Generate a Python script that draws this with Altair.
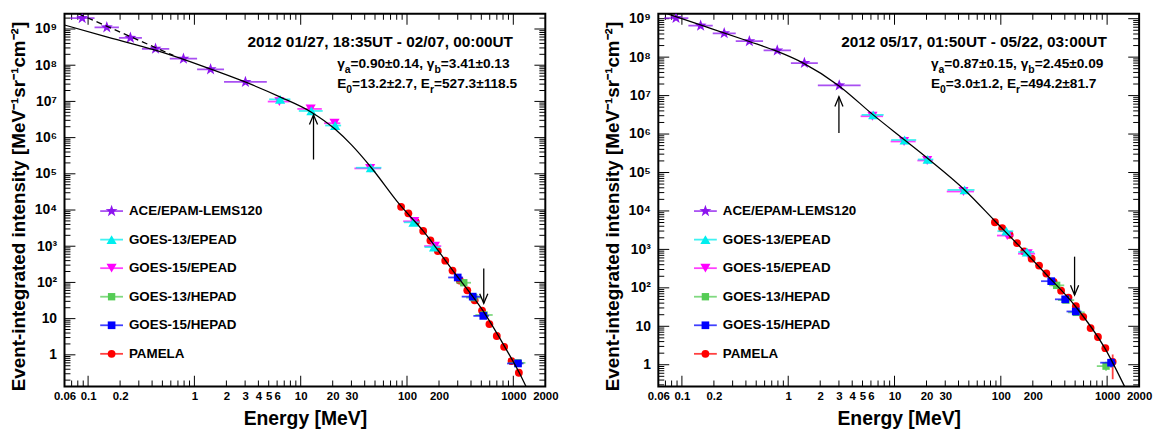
import altair as alt
import pandas as pd

FONT = "Liberation Sans"

# ---------------- data ----------------
instruments = ["ACE/EPAM-LEMS120", "GOES-13/EPEAD", "GOES-15/EPEAD",
               "GOES-13/HEPAD", "GOES-15/HEPAD", "PAMELA"]

ace_E = [0.088, 0.150, 0.250, 0.431, 0.789, 1.42, 3.02]
ace_Elo = [0.068, 0.115, 0.195, 0.321, 0.587, 1.06, 1.90]
ace_Ehi = [0.115, 0.195, 0.321, 0.580, 1.06, 1.90, 4.80]
ace_I_a = [2.0e9, 1.11e9, 5.7e8, 2.84e8, 1.51e8, 7.7e7, 3.45e7]
ace_I_b = [1.04e9, 6.59e8, 4.17e8, 2.6e8, 1.49e8, 7.03e7, 1.84e7]

g13e_E_a = [6.4, 12.6, 21.1, 45.7, 115, 179.5]
g13e_Elo_a = [5.05, 9.6, 17.0, 33.0, 93.5, 146]
g13e_Ehi_a = [8.0, 16.1, 24.0, 57.5, 131, 206]
g13e_I_a = [1.14e7, 5.45e6, 2.16e6, 1.47e5, 4580, 946]
g13e_E_b = [6.3, 12.45, 20.5, 45.7, 112.7, 175.8]
g13e_Elo_b = [4.9, 9.3, 16.6, 31.5, 93, 146]
g13e_Ehi_b = [7.9, 16.0, 23.2, 56.6, 131, 206]
g13e_I_b = [3.15e6, 7.0e5, 2.18e5, 3.52e4, 2974, 855]

g15e_E_a = [6.3, 12.4, 20.8, 45.0, 117, 183]
g15e_Elo_a = [4.9, 9.3, 16.6, 32.0, 92, 145]
g15e_Ehi_a = [7.9, 15.8, 23.6, 57.0, 132, 210]
g15e_I_a = [9.9e6, 6.2e6, 2.5e6, 1.41e5, 4880, 1009]
g15e_E_b = [6.2, 12.3, 20.3, 44.5, 115, 179]
g15e_Elo_b = [4.8, 9.2, 16.4, 31.0, 92, 145]
g15e_Ehi_b = [7.8, 15.8, 23.0, 56.0, 132, 210]
g15e_I_b = [2.9e6, 6.4e5, 2.05e5, 3.2e4, 2290, 773]

g13h_E_a = [342, 425, 530, 1100]
g13h_Elo_a = [290, 360, 440, 900]
g13h_Ehi_a = [400, 500, 640, 1300]
g13h_I_a = [98, 38, 12.6, 0.6]
g13h_E_b = [335, 410, 515, 977]
g13h_Elo_b = [285, 345, 430, 800]
g13h_Ehi_b = [395, 490, 615, 1150]
g13h_I_b = [116, 48, 23, 0.92]

g15h_E_a = [300, 415, 522, 1107]
g15h_Elo_a = [244, 327, 421, 873]
g15h_Ehi_a = [337, 492, 589, 1247]
g15h_I_a = [137, 40.5, 11.9, 0.578]
g15h_E_b = [298, 403, 507, 1089]
g15h_Elo_b = [239, 323, 415, 861]
g15h_Ehi_b = [330, 462, 573, 1213]
g15h_I_b = [149, 50.3, 24.3, 1.13]

pam_E = [88, 103, 121, 142, 166, 195, 229, 268, 314, 369, 433, 508, 596, 699, 820, 962, 1128]
pam_I_a = [12250, 8080, 4670, 2650, 1437, 736, 399, 212, 113, 60.3, 32.1, 16.7,
           7.07, 3.31, 1.66, 0.672, 0.321]
pam_I_b = [5080, 3556, 2390, 1459, 886, 574, 379, 236, 142, 84.4, 55.7, 33.2,
           17.6, 9.0, 5.27, 2.7, 1.19]

yerr_E_a = [962, 1128, 1107]
yerr_lo_a = [0.55, 0.25, 0.47]
yerr_hi_a = [0.80, 0.40, 0.70]
yerr_col_a = ["PAMELA", "PAMELA", "GOES-15/HEPAD"]
yerr_E_b = [1128, 820, 1089, 977]
yerr_lo_b = [0.42, 4.5, 0.85, 0.70]
yerr_hi_b = [1.85, 6.0, 1.50, 1.20]
yerr_col_b = ["PAMELA", "PAMELA", "GOES-15/HEPAD", "GOES-13/HEPAD"]

fit_E_a = [0.06, 0.141, 0.437, 1.21, 3.04, 6.44, 12.5, 21.0, 30.2, 46.4, 84.7,
           141.8, 270, 514, 842, 1138, 1472]
fit_I_a = [1.29e9, 6.36e8, 2.55e8, 9.29e7, 3.39e7, 1.32e7, 5.12e6, 1.72e6, 6.18e5,
           1.45e5, 1.45e4, 2650, 212, 17.1, 1.56, 0.321, 0.0665]
dash_E_a = [0.0665, 0.634]
dash_I_a = [3.4e9, 1.86e8]
fit_E_b = [0.06, 0.147, 0.431, 0.769, 1.40, 2.97, 6.30, 12.45, 21.1, 45.7, 87.1,
           262.6, 503, 952, 1450, 1640]
fit_I_b = [1.61e9, 7.0e8, 2.55e8, 1.45e8, 6.9e7, 1.84e7, 3.15e6, 7.0e5, 2.18e5,
           3.52e4, 5650, 236, 33.2, 2.70, 0.282, 0.141]

arrow_E_a = [13.2, 527.3]
arrow_from_a = [2.48e5, 241]
arrow_to_a = [4.23e6, 26.5]
arrow_E_b = [3.0, 494.2]
arrow_from_b = [1.06e6, 647]
arrow_to_b = [9.33e6, 65]

header_a = "2012 01/27, 18:35UT - 02/07, 00:00UT"
gamma_a = [("γ", 0), ("a", 1), ("=0.90±0.14, γ", 0), ("b", 1), ("=3.41±0.13", 0)]
energy_a = [("E", 0), ("0", 1), ("=13.2±2.7, E", 0), ("r", 1), ("=527.3±118.5", 0)]
header_b = "2012 05/17, 01:50UT - 05/22, 03:00UT"
gamma_b = [("γ", 0), ("a", 1), ("=0.87±0.15, γ", 0), ("b", 1), ("=2.45±0.09", 0)]
energy_b = [("E", 0), ("0", 1), ("=3.0±1.2, E", 0), ("r", 1), ("=494.2±81.7", 0)]

X_LABELS = [0.06, 0.1, 0.2, 1, 2, 3, 4, 5, 6, 10, 20, 30, 100, 200, 1000, 2000]

# ---------------- styling ----------------
STAR = ("M0,-1L0.235,-0.324L0.951,-0.309L0.380,0.124L0.588,0.809L0,0.4"
        "L-0.588,0.809L-0.380,0.124L-0.951,-0.309L-0.235,-0.324Z")
STYLE = {
    "ACE/EPAM-LEMS120": dict(shape=STAR, color="#8c14ee", size=160),
    "GOES-13/EPEAD": dict(shape="triangle-up", color="#00eeee", size=105),
    "GOES-15/EPEAD": dict(shape="triangle-down", color="#ff00ff", size=105),
    "GOES-13/HEPAD": dict(shape="square", color="#55cc55", size=55),
    "GOES-15/HEPAD": dict(shape="square", color="#0000ff", size=60),
    "PAMELA": dict(shape="circle", color="#ff0000", size=62),
}
DRAW_ORDER = ["PAMELA", "GOES-15/EPEAD", "GOES-13/EPEAD", "GOES-13/HEPAD",
              "GOES-15/HEPAD", "ACE/EPAM-LEMS120"]

PW, PH = 485, 376
XDOM = [0.06, 2000]
YDOM_A = [0.133, 2.63e9]
YDOM_B = [0.271, 1.34e9]

X_MAJOR = [0.1, 1, 10, 100, 1000]
X_MINOR = [round(m * 10.0 ** k, 6) for k in range(-2, 4) for m in range(2, 10)]
X_MINOR = [v for v in X_MINOR if XDOM[0] < v < XDOM[1]]

SUP = {2: "²", 3: "³", 4: "⁴", 5: "⁵", 6: "⁶", 7: "⁷", 8: "⁸", 9: "⁹"}
Y_LABEL_EXPR = "datum.value < 5 ? '1' : datum.value < 50 ? '10' : " + " : ".join(
    "datum.value < %g ? '10%s'" % (5 * 10 ** k, SUP[k]) for k in range(2, 10)) + " : ''"
X_LABEL_EXPR = "datum.value >= 1 ? format(datum.value, 'd') : format(datum.value, '.2~f')"
YTITLE = "Event-integrated intensity [MeV⁻¹sr⁻¹cm⁻²]"


def y_ticks(dom):
    major = [10.0 ** k for k in range(-1, 10) if dom[0] < 10.0 ** k < dom[1]]
    minor = [m * 10.0 ** k for k in range(-1, 10) for m in range(2, 10)]
    minor = [v for v in minor if dom[0] < v < dom[1]]
    return major, minor


W = {"γ": 556, "=": 584, ".": 278, "±": 549, ",": 278, " ": 278, "E": 667,
     "a": 556, "b": 611, "r": 389}


def text_width(s, size):
    return sum(W.get(c, 556) for c in s) * size / 1000.0


ONE = pd.DataFrame({"k": [0]})


def text_layer(txt, x, y, size, baseline="alphabetic"):
    return alt.Chart(ONE).mark_text(
        font=FONT, fontWeight="bold", fontSize=size, align="left",
        baseline=baseline, color="black").encode(
        x=alt.value(x), y=alt.value(y), text=alt.value(txt))


def rich_line(segs, x0, y0, main=13.8, sub=10.5, dy=5):
    out = []
    x = x0
    for s, is_sub in segs:
        size = sub if is_sub else main
        out.append(text_layer(s, x, y0 + (dy if is_sub else 0), size))
        x += text_width(s, size)
    return out


def make_panel(series, yerr, fit, dashed, arrows, header, gam, ene, ydom):
    xs = alt.Scale(type="log", domain=XDOM, nice=False)
    ys = alt.Scale(type="log", domain=ydom, nice=False)
    ymaj, ymin = y_ticks(ydom)
    ylab_vals = [v for v in ymaj if v >= 1]

    x_axis = alt.Axis(values=X_LABELS, ticks=False, domain=False, grid=False,
                      labelExpr=X_LABEL_EXPR, labelFont=FONT, labelFontSize=11.5,
                      labelFontWeight="bold", labelColor="black", labelPadding=4,
                      labelFlush=False, labelOverlap=False,
                      title="Energy [MeV]", titleFont=FONT, titleFontSize=19.5,
                      titleFontWeight="bold", titleColor="black", titlePadding=8)
    y_axis = alt.Axis(values=ylab_vals, ticks=False, domain=False, grid=False,
                      labelExpr=Y_LABEL_EXPR, labelFont=FONT, labelFontSize=14,
                      labelFontWeight="bold", labelColor="black", labelPadding=8,
                      labelFlush=False, labelOverlap=False,
                      title=YTITLE, titleFont=FONT, titleFontSize=19,
                      titleFontWeight="bold", titleColor="black", titlePadding=6,
                      titleY=194)

    def X(f):
        return alt.X(f, type="quantitative", scale=xs, axis=x_axis)

    def Y(f):
        return alt.Y(f, type="quantitative", scale=ys, axis=y_axis)

    layers = []
    # inward ticks on all four sides
    for vals, L in ((X_MAJOR, 11), (X_MINOR, 6)):
        tdf = pd.DataFrame({"v": vals})
        for yy in (PH - L / 2, L / 2):
            layers.append(alt.Chart(tdf).mark_tick(
                orient="vertical", size=L, thickness=1, color="black", opacity=1).encode(
                x=X("v"), y=alt.value(yy)))
    for vals, L in ((ymaj, 11), (ymin, 6)):
        tdf = pd.DataFrame({"v": vals})
        for xx in (L / 2, PW - L / 2):
            layers.append(alt.Chart(tdf).mark_tick(
                orient="horizontal", size=L, thickness=1, color="black", opacity=1).encode(
                y=Y("v"), x=alt.value(xx)))

    # data series
    for name in DRAW_ORDER:
        st = STYLE[name]
        E, lo, hi, I = series[name]
        df = pd.DataFrame({"E": E, "Elo": lo, "Ehi": hi, "I": I})
        clip = name == "ACE/EPAM-LEMS120"
        layers.append(alt.Chart(df).mark_rule(
            color=st["color"], strokeWidth=1.8, opacity=0.75, clip=clip).encode(
            x=X("Elo"), x2="Ehi", y=Y("I")))
        ye = [(e, l, h) for e, l, h, c in zip(*yerr) if c == name]
        if ye:
            dfe = pd.DataFrame(ye, columns=["E", "lo", "hi"])
            layers.append(alt.Chart(dfe).mark_rule(
                color=st["color"], strokeWidth=1.8, opacity=0.75).encode(
                x=X("E"), y=Y("lo"), y2="hi"))
        layers.append(alt.Chart(df).mark_point(
            shape=st["shape"], filled=True, opacity=1, color=st["color"],
            size=st["size"], clip=clip).encode(x=X("E"), y=Y("I")))

    # arrows
    aE, afrom, ato = arrows
    adf = pd.DataFrame({"E": aE, "from": afrom, "to": ato})
    layers.append(alt.Chart(adf).mark_rule(color="black", strokeWidth=1.3).encode(
        x=X("E"), y=Y("from"), y2="to"))
    for e, f, t in zip(aE, afrom, ato):
        path = "M-0.42,1L0,0L0.42,1" if t > f else "M-0.42,-1L0,0L0.42,-1"
        hd = pd.DataFrame({"E": [e], "I": [t]})
        layers.append(alt.Chart(hd).mark_point(
            shape=path, filled=False, opacity=1, color="black", strokeWidth=1.3,
            size=380).encode(x=X("E"), y=Y("I")))

    # fit curves
    fdf = pd.DataFrame({"E": fit[0], "I": fit[1]})
    layers.append(alt.Chart(fdf).mark_line(
        color="black", strokeWidth=1.3, clip=True, interpolate="monotone").encode(
        x=X("E"), y=Y("I")))
    if dashed is not None:
        ddf = pd.DataFrame({"E": dashed[0], "I": dashed[1]})
        layers.append(alt.Chart(ddf).mark_line(
            color="black", strokeWidth=1.3, clip=True, strokeDash=[6, 4]).encode(
            x=X("E"), y=Y("I")))

    # annotation text
    layers.append(text_layer(header, 184.5, 33.5, 15.5))
    layers += rich_line(gam, 275, 55)
    layers += rich_line(ene, 275, 74.5)

    # legend
    for i, name in enumerate(instruments):
        st = STYLE[name]
        ly = 199 + i * 28.8
        layers.append(alt.Chart(ONE).mark_rule(
            color=st["color"], strokeWidth=1.8, opacity=0.75).encode(
            x=alt.value(36), x2=alt.value(59), y=alt.value(ly)))
        layers.append(alt.Chart(ONE).mark_point(
            shape=st["shape"], filled=True, opacity=1, color=st["color"],
            size=st["size"]).encode(x=alt.value(47.5), y=alt.value(ly)))
        layers.append(text_layer(name, 65, ly, 13.5, baseline="middle"))

    return alt.layer(*layers).properties(width=PW, height=PH)


series_a = {
    "ACE/EPAM-LEMS120": (ace_E, ace_Elo, ace_Ehi, ace_I_a),
    "GOES-13/EPEAD": (g13e_E_a, g13e_Elo_a, g13e_Ehi_a, g13e_I_a),
    "GOES-15/EPEAD": (g15e_E_a, g15e_Elo_a, g15e_Ehi_a, g15e_I_a),
    "GOES-13/HEPAD": (g13h_E_a, g13h_Elo_a, g13h_Ehi_a, g13h_I_a),
    "GOES-15/HEPAD": (g15h_E_a, g15h_Elo_a, g15h_Ehi_a, g15h_I_a),
    "PAMELA": (pam_E, pam_E, pam_E, pam_I_a),
}
series_b = {
    "ACE/EPAM-LEMS120": (ace_E, ace_Elo, ace_Ehi, ace_I_b),
    "GOES-13/EPEAD": (g13e_E_b, g13e_Elo_b, g13e_Ehi_b, g13e_I_b),
    "GOES-15/EPEAD": (g15e_E_b, g15e_Elo_b, g15e_Ehi_b, g15e_I_b),
    "GOES-13/HEPAD": (g13h_E_b, g13h_Elo_b, g13h_Ehi_b, g13h_I_b),
    "GOES-15/HEPAD": (g15h_E_b, g15h_Elo_b, g15h_Ehi_b, g15h_I_b),
    "PAMELA": (pam_E, pam_E, pam_E, pam_I_b),
}

left = make_panel(series_a, (yerr_E_a, yerr_lo_a, yerr_hi_a, yerr_col_a),
                  (fit_E_a, fit_I_a), (dash_E_a, dash_I_a),
                  (arrow_E_a, arrow_from_a, arrow_to_a),
                  header_a, gamma_a, energy_a, YDOM_A)
right = make_panel(series_b, (yerr_E_b, yerr_lo_b, yerr_hi_b, yerr_col_b),
                   (fit_E_b, fit_I_b), None,
                   (arrow_E_b, arrow_from_b, arrow_to_b),
                   header_b, gamma_b, energy_b, YDOM_B)

chart = alt.hconcat(left, right, spacing=43).properties(
    padding={"left": 0, "top": 0, "right": 0, "bottom": 0},
    background="white",
).configure_view(stroke="black", strokeWidth=2)

chart.save("out.html", embed_options={"renderer": "svg", "actions": False})
